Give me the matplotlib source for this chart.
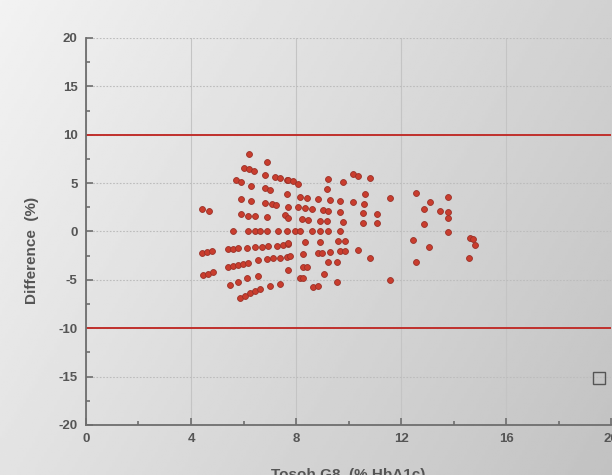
import numpy as np
import matplotlib
matplotlib.use("Agg")
import matplotlib.pyplot as plt

# Tosoh G8 HbA1c (%) vs difference (%)
hba1c = [
    6.2, 6.9, 6.0, 6.2, 6.4, 6.8, 7.2, 7.4, 7.65, 5.7, 5.9, 6.3, 6.8, 7.0, 7.65,
    5.9, 6.3, 6.8, 7.07, 7.24, 4.4, 4.7, 5.9, 6.18, 6.44, 6.88, 7.58,
    5.61, 6.18, 6.44, 6.63, 6.88, 7.33, 7.65,
    4.41, 4.6, 4.79,
    5.42, 5.61, 5.80, 6.12, 6.44, 6.69, 6.94, 7.26, 7.52, 7.71,
    5.42, 5.61, 5.80, 5.99, 6.18, 6.56, 6.88, 7.14, 7.39, 7.65, 7.77, 7.71,
    4.47, 4.66, 4.85,
    5.49, 5.80, 6.12, 6.56,
    5.87, 6.06, 6.25, 6.44, 6.63, 7.01, 7.39,
    7.71, 7.90, 8.09, 9.23, 9.80, 10.18, 10.37, 10.82, 9.17,
    8.15, 8.41, 8.85, 9.30, 9.68, 10.18, 10.63, 10.60,
    7.71, 8.09, 8.34, 8.60, 9.04, 9.23, 9.68, 10.56, 11.07,
    7.71, 8.22, 8.47, 8.91, 9.17, 9.80, 10.56, 11.07,
    7.96, 8.15, 8.60, 8.91, 9.23, 9.68,
    7.71, 8.34, 8.91, 9.61, 9.87,
    8.28, 8.85, 8.98, 9.30, 9.68, 9.87, 10.37, 10.82,
    8.28, 8.41, 9.23, 9.55,
    8.15, 8.28, 9.08,
    8.66, 8.85, 9.55,
    11.58, 12.57, 13.80, 13.10, 12.88, 13.49, 13.80, 13.80, 12.88, 13.80,
    12.47, 14.63, 14.75, 14.82, 13.08, 14.60, 12.57, 11.58,
]
difference = [
    8.0, 7.2, 6.6, 6.5, 6.3, 5.8, 5.6, 5.5, 5.3, 5.3, 5.15, 4.7, 4.47, 4.29, 3.84,
    3.36, 3.15, 2.91, 2.81, 2.74, 2.33, 2.15, 1.81, 1.6, 1.6, 1.53, 1.71,
    0.05, 0.05, 0.05, 0.05, 0.05, 0.05, 0.05,
    -2.19, -2.09, -2.02,
    -1.81, -1.81, -1.74, -1.67, -1.6, -1.57, -1.53, -1.47, -1.40, -1.32,
    -3.70, -3.60, -3.46, -3.39, -3.29, -2.95, -2.87, -2.77, -2.71, -2.60, -2.56, -3.98,
    -4.50, -4.36, -4.16,
    -5.53, -5.19, -4.84, -4.57,
    -6.84, -6.64, -6.39, -6.15, -5.94, -5.63, -5.46,
    5.32, 5.22, 4.91, 5.40, 5.09, 5.91, 5.77, 5.56, 4.36,
    3.60, 3.49, 3.36, 3.26, 3.15, 3.02, 3.84, 2.81,
    2.56, 2.53, 2.40, 2.33, 2.22, 2.15, 2.05, 1.88, 1.78,
    1.36, 1.29, 1.19, 1.12, 1.09, 1.01, 0.91, 0.85,
    0.05, 0.05, 0.05, 0.05, 0.05, 0.05,
    -1.22, -1.12, -1.05, -0.98, -0.98,
    -2.36, -2.25, -2.25, -2.15, -2.02, -2.02, -1.91, -2.71,
    -3.64, -3.64, -3.18, -3.12,
    -4.84, -4.78, -4.42,
    -5.71, -5.63, -5.25,
    3.43, 3.95, 3.60, 3.05, 2.36, 2.15, 2.05, 1.36, 0.78, -0.02,
    -0.88, -0.70, -0.81, -1.40, -1.57, -2.77, -3.18, -5.01,
]
limits = [10, -10]
legend_marker = (19.55, -15.1)

plt.rcParams['font.family'] = ['Liberation Sans', 'DejaVu Sans']
plt.rcParams['axes.unicode_minus'] = False

fig = plt.figure(figsize=(6.12, 4.75), dpi=100)

# gradient background
bg = fig.add_axes([0, 0, 1, 1], zorder=-10)
gx = np.linspace(0, 1, 200)
gy = np.linspace(0, 1, 200)
GX, GY = np.meshgrid(gx, gy)
shade = 0.95 - 0.13 * GX - 0.06 * GY
bg.imshow(shade, cmap='gray', vmin=0, vmax=1, aspect='auto', extent=[0, 1, 0, 1])
bg.axis('off')

ax = fig.add_axes([0.1405, 0.1053, 0.858, 0.8147])
ax.patch.set_alpha(0)

ax.set_xlim(0, 20)
ax.set_ylim(-20, 20)
ax.set_xticks([0, 4, 8, 12, 16, 20])
ax.set_xticks([2, 6, 10, 14, 18], minor=True)
ax.set_yticks(range(-20, 21, 5))
ax.set_yticks(np.arange(-17.5, 20, 5), minor=True)

ax.grid(axis='x', which='major', color='#c4c4c4', linestyle='-', linewidth=0.8)
ax.grid(axis='y', which='major', color='#bcbcbc', linestyle=(0, (1.5, 1.5)), linewidth=0.8)

for sp in ['top', 'right']:
    ax.spines[sp].set_visible(False)
for sp in ['left', 'bottom']:
    ax.spines[sp].set_color('#6e6e6e')
    ax.spines[sp].set_linewidth(1.3)

ax.tick_params(which='both', direction='in', color='#6e6e6e', width=1.2)
ax.tick_params(which='major', length=5, labelsize=9.5, labelcolor='#555555', pad=6)
ax.tick_params(which='minor', length=3)
for lab in ax.get_xticklabels() + ax.get_yticklabels():
    lab.set_fontweight('bold')

for lim in limits:
    ax.axhline(lim, color='#c0302c', linewidth=1.4, zorder=2)

ax.scatter(hba1c, difference, s=18, color='#c93d2e', edgecolors='#9a3128',
           linewidths=0.6, zorder=3)

ax.plot([legend_marker[0]], [legend_marker[1]], marker='s', markersize=8,
        markerfacecolor='none', markeredgecolor='#555555', markeredgewidth=1.0,
        clip_on=False, zorder=4)

ax.set_ylabel('Difference  (%)', fontsize=11, fontweight='bold', color='#555555')
ax.yaxis.set_label_coords(-0.09, 0.45)
ax.set_xlabel('Tosoh G8  (% HbA1c)', fontsize=11, fontweight='bold', color='#555555')
ax.xaxis.set_label_coords(0.5, -0.11)

fig.savefig('out.png', dpi=100)
